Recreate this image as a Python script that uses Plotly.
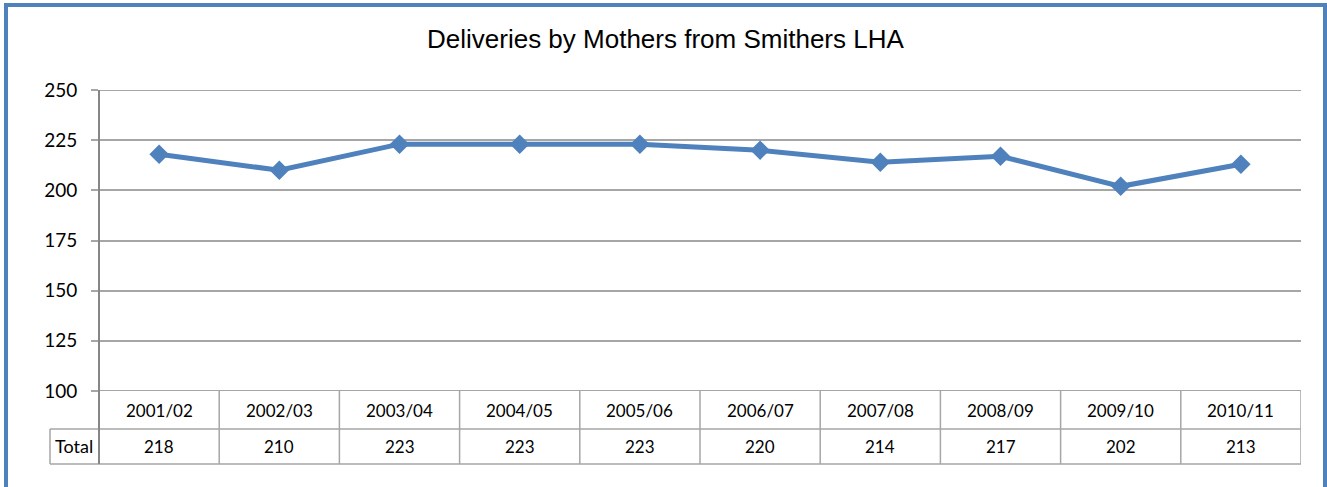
import plotly.graph_objects as go

categories = ["2001/02", "2002/03", "2003/04", "2004/05", "2005/06",
              "2006/07", "2007/08", "2008/09", "2009/10", "2010/11"]
totals = [218, 210, 223, 223, 223, 220, 214, 217, 202, 213]
y_ticks = [100, 125, 150, 175, 200, 225, 250]
row_label = "Total"
title = "Deliveries by Mothers from Smithers LHA"

W, H = 1327, 487
L, R, T, B = 99, 1301, 90, 391
pw, ph = R - L, B - T

def px(x):
    return (x - L) / pw

def py(y):
    return (B - y) / ph

BLUE = "#4F81BD"
GRID = "#A6A6A6"
FONT = "Lato, Carlito, Calibri, sans-serif"

xs = list(range(len(categories)))

fig = go.Figure()
fig.add_trace(go.Scatter(
    x=xs, y=totals, mode="lines+markers",
    line=dict(color=BLUE, width=5),
    marker=dict(symbol="diamond", size=15, color=BLUE),
    showlegend=False, hoverinfo="skip",
))

shapes = []
# edge gridlines (100 = table top, 250 = top)
for v in (y_ticks[0], y_ticks[-1]):
    shapes.append(dict(type="line", xref="paper", yref="y",
                       x0=0, x1=1, y0=v, y1=v, layer="below",
                       line=dict(color=GRID, width=2)))
# table vertical lines
for i in range(len(categories) + 1):
    shapes.append(dict(type="line", xref="x", yref="paper",
                       x0=i - 0.5, x1=i - 0.5, y0=0, y1=py(464),
                       line=dict(color=GRID, width=1.5)))
# table horizontal lines
for yy in (429, 464):
    shapes.append(dict(type="line", xref="paper", yref="paper",
                       x0=px(50), x1=1, y0=py(yy), y1=py(yy),
                       line=dict(color=GRID, width=1.5)))
shapes.append(dict(type="line", xref="paper", yref="paper",
                   x0=px(50), x1=px(50), y0=py(429), y1=py(464),
                   line=dict(color=GRID, width=1.5)))
# left axis line
shapes.append(dict(type="line", xref="paper", yref="paper",
                   x0=0, x1=0, y0=1, y1=py(464),
                   line=dict(color="#868686", width=2)))
# outer blue border
shapes.append(dict(type="line", xref="paper", yref="paper",
                   x0=px(6), x1=px(6), y0=py(5), y1=py(500),
                   line=dict(color=BLUE, width=4)))
shapes.append(dict(type="line", xref="paper", yref="paper",
                   x0=px(4), x1=px(1327), y0=py(5), y1=py(5),
                   line=dict(color=BLUE, width=4)))
shapes.append(dict(type="line", xref="paper", yref="paper",
                   x0=px(1325), x1=px(1325), y0=py(3), y1=py(500),
                   line=dict(color=BLUE, width=4)))

annotations = []
for i, (c, v) in enumerate(zip(categories, totals)):
    annotations.append(dict(x=i, y=py(410), xref="x", yref="paper",
                            xanchor="center", yanchor="middle",
                            text=c, showarrow=False,
                            font=dict(family=FONT, size=17, color="black")))
    annotations.append(dict(x=i, y=py(447), xref="x", yref="paper",
                            xanchor="center", yanchor="middle",
                            text=str(v), showarrow=False,
                            font=dict(family=FONT, size=17, color="black")))
annotations.append(dict(x=px(74), y=py(446), xref="paper", yref="paper",
                        xanchor="center", yanchor="middle",
                        text=row_label, showarrow=False,
                        font=dict(family=FONT, size=18, color="black")))
annotations.append(dict(x=px(665), y=py(39), xref="paper", yref="paper",
                        xanchor="center", yanchor="middle",
                        text=title, showarrow=False,
                        font=dict(family="Liberation Sans, Arial, sans-serif",
                                  size=26, color="black")))

fig.update_layout(
    width=W, height=H,
    margin=dict(l=L, r=W - R, t=T, b=H - B, pad=0),
    paper_bgcolor="white", plot_bgcolor="white",
    xaxis=dict(range=[-0.5, len(categories) - 0.5], showgrid=False,
               showticklabels=False, zeroline=False, showline=False,
               fixedrange=True),
    yaxis=dict(range=[100, 250], tickvals=y_ticks, showgrid=True,
               gridcolor=GRID, gridwidth=2, zeroline=False,
               showline=False, ticks="outside", ticklen=7,
               tickcolor=GRID, tickwidth=2, ticklabelstandoff=10,
               tickfont=dict(family=FONT, size=19, color="black"),
               fixedrange=True),
    shapes=shapes, annotations=annotations,
)

fig.write_html("out.html", config={"displayModeBar": False},
               post_script="document.body.style.margin='0';document.body.style.overflow='hidden';")
